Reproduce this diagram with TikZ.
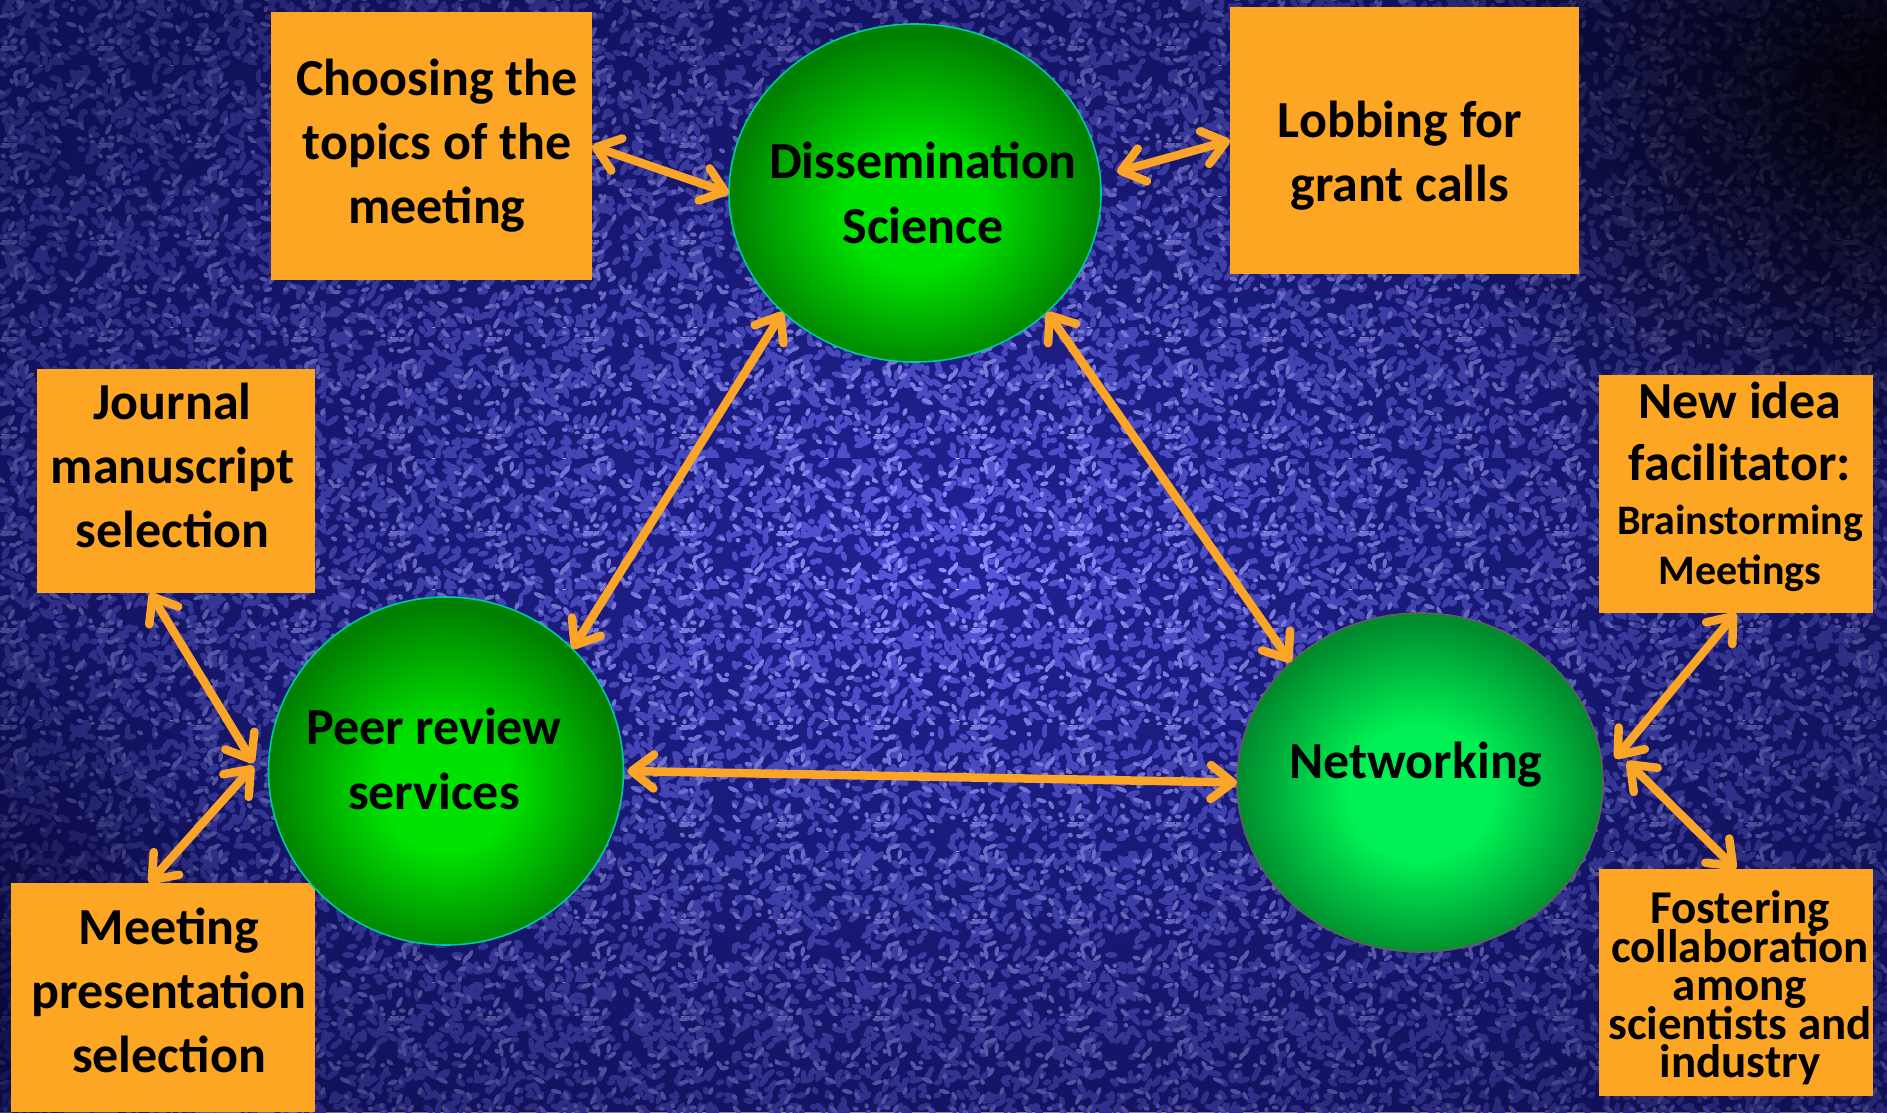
\documentclass[tikz,border=0pt]{standalone}
\usepackage{fontspec}
\setmainfont{Carlito}
\usetikzlibrary{shapes.geometric,arrows.meta,calc,fadings,patterns}
\definecolor{bgA}{RGB}{34,34,150}
\definecolor{blobA}{RGB}{88,88,222}
\definecolor{blobB}{RGB}{145,145,255}
\definecolor{orbox}{RGB}{253,166,35}
\definecolor{orarr}{RGB}{250,165,40}
\definecolor{gA1}{RGB}{0,226,0}
\definecolor{gA2}{RGB}{0,128,0}
\definecolor{gN1}{RGB}{0,240,85}
\definecolor{gN2}{RGB}{0,140,45}
\definecolor{rimA}{RGB}{0,200,170}
\definecolor{rimN}{RGB}{95,95,95}
\definecolor{vigc}{RGB}{5,5,45}
\pgfdeclareradialshading{ballA}{\pgfpoint{0bp}{-3bp}}{color(0bp)=(gA1); color(9bp)=(gA1); color(25bp)=(gA2); color(50bp)=(gA2)}
\pgfdeclareradialshading{ballN}{\pgfpoint{0bp}{-2bp}}{color(0bp)=(gN1); color(10bp)=(gN1); color(25bp)=(gN2); color(50bp)=(gN2)}
\tikzfading[name=vig, inner color=transparent!100, outer color=transparent!0]
\tikzfading[name=spot, inner color=transparent!0, outer color=transparent!100]
\pgfmathsetseed{4242}
\newcommand\blobtile[5]{% name, tile size, count, min half-length, half-width
  \pgfdeclarepatternformonly{#1}{\pgfqpoint{0pt}{0pt}}{\pgfqpoint{#2pt}{#2pt}}{\pgfqpoint{#2pt}{#2pt}}{%
    \foreach \i in {1,...,#3}{%
      \pgfmathsetmacro\bx{#2*rnd}\pgfmathsetmacro\by{#2*rnd}%
      \pgfmathsetmacro\ba{180*rnd}\pgfmathsetmacro\bb{\ba+90}\pgfmathsetmacro\bw{#4+4.5*rnd}%
      \pgfpathellipse{\pgfpoint{\bx pt}{\by pt}}{\pgfpointpolar{\ba}{\bw pt}}{\pgfpointpolar{\bb}{#5pt}}%
      \pgfusepath{fill}%
    }%
  }}
\blobtile{blobsA}{131}{95}{3.5}{3}
\blobtile{blobsAA}{109}{65}{3.5}{3}
\blobtile{blobsB}{97}{40}{2}{2.2}
\AtBeginDocument{\lineskiplimit=-100pt\relax}
\tikzset{
  box/.style={rectangle, fill=orbox, inner sep=0pt, outer sep=0pt},
  txt/.style={inner sep=0pt, align=center, text=black,
    font=\bfseries\fontsize{52}{64}\selectfont},
  ball/.style={ellipse, inner sep=0pt, outer sep=0pt, line width=1.6pt, shade},
  dbl/.style={draw=orarr, line width=8.5pt, line cap=round,
    >={Straight Barb[round,length=22pt,width=34pt]}, <->},
}
\begin{document}
\begin{tikzpicture}[x=1pt,y=-1pt]
\useasboundingbox (0,0) rectangle (1887,1112);
% background
\fill[bgA] (0,0) rectangle (1887,1112);
\fill[pattern=blobsA, pattern color=blobA] (0,0) rectangle (1887,1112);
\fill[pattern=blobsAA, pattern color=blobA] (0,0) rectangle (1887,1112);
\fill[pattern=blobsB, pattern color=blobB] (0,0) rectangle (1887,1112);
\fill[vigc, opacity=0.6, path fading=vig] (-150,-150) rectangle (2037,1262);
\fill[black, opacity=0.92, path fading=spot] (1887,80) ellipse [x radius=480pt, y radius=460pt];
\fill[vigc, opacity=0.6, path fading=spot] (0,1000) ellipse [x radius=260pt, y radius=380pt];

% boxes
\node[box, minimum width=321pt, minimum height=268pt] (choose) at (431.5,146) {};
\node[box, minimum width=349pt, minimum height=267pt] (lob) at (1404.5,140.5) {};
\node[box, minimum width=278pt, minimum height=224pt] (jour) at (176,481) {};
\node[box, minimum width=304pt, minimum height=229pt] (meet) at (163,997.5) {};
\node[box, minimum width=274pt, minimum height=238pt] (ni) at (1736,494) {};
\node[box, minimum width=274pt, minimum height=227pt] (fo) at (1736,982.5) {};

% circles
\node[ball, shading=ballA, draw=rimA, minimum width=372pt, minimum height=338pt] (diss) at (915,193) {};
\node[ball, shading=ballA, draw=rimA, minimum width=355pt, minimum height=348pt] (peer) at (446,771) {};
\node[ball, shading=ballN, draw=rimN, minimum width=366pt, minimum height=339pt] (net) at (1420,782.5) {};

% texts
\node[txt] (chooseT) at (437,145.5) {Choosing the\\topics of the\\meeting};
\node[txt] (lobT) at (1400,156) {Lobbing for\\grant calls};
\node[txt] (jourT) at (172.5,465) {Journal\\manuscript\\selection};
\node[txt] (meetT) at (169,990) {Meeting\\presentation\\selection};
\node[txt, font=\bfseries\fontsize{52}{62}\selectfont] (niT) at (1740,487)
  {New idea\\facilitator:\\[-8pt]
   \fontsize{42}{50}\selectfont Brainstorming\\[-12pt]
   \fontsize{42}{50}\selectfont Meetings};
\node[txt, font=\bfseries\fontsize{47}{38.5}\selectfont] (foT) at (1740,988)
  {Fostering\\collaboration\\among\\scientists and\\industry};
\node[txt, font=\bfseries\fontsize{52}{65}\selectfont] (dissT) at (923,192.5) {Dissemination\\Science};
\node[txt, font=\bfseries\fontsize{52}{65}\selectfont] (peerT) at (434,759) {Peer review\\services};
\node[txt] (netT) at (1416,765) {Networking};

% connectors
\draw[dbl] (choose.east) -- (diss.west);
\draw[dbl] (lob.west) -- ($(diss.east)+(16,-21)$);
\draw[dbl] (diss.222) -- (peer.44);
\draw[dbl] (diss.318) -- (net.137);
\draw[dbl] ($(peer.east)+(4,0)$) -- (net.west);
\draw[dbl] (jour.257) -- ($(peer.west)+(-15,-8)$);
\draw[dbl] (meet.97) -- ($(peer.west)+(-15,-5)$);
\draw[dbl] (ni.south) -- ($(net.east)+(12,-24)$);
\draw[dbl] (fo.north) -- ($(net.east)+(24,-21)$);
\end{tikzpicture}
\end{document}
